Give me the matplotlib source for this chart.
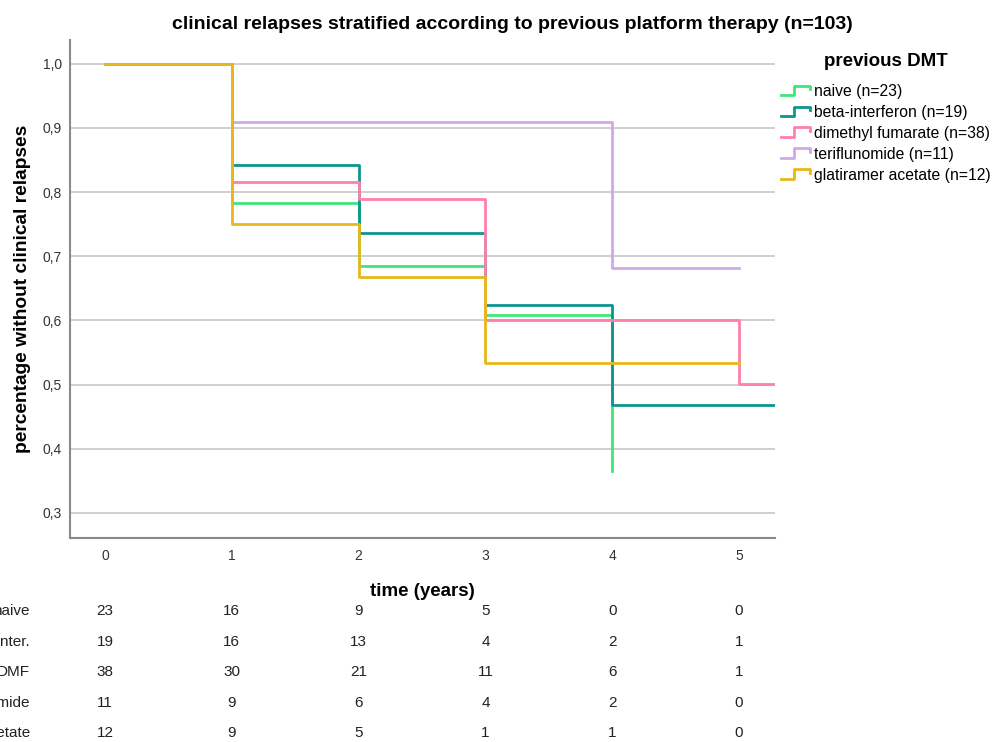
import matplotlib
matplotlib.use("Agg")
import matplotlib.pyplot as plt
from matplotlib.legend_handler import HandlerBase
from matplotlib.lines import Line2D

plt.rcParams['font.family'] = ['Liberation Sans', 'DejaVu Sans']

# Kaplan-Meier estimates per group (event times, survival after each event, end of follow-up)
groups = ['naive (n=23)', 'beta-interferon (n=19)', 'dimethyl fumarate (n=38)',
          'teriflunomide (n=11)', 'glatiramer acetate (n=12)']
colors = ['#3ee67a', '#0f9490', '#ff80a8', '#d0a8ec', '#e8b818']

naive_t = [0, 1, 2, 3, 4]
naive_s = [1.0, 0.783, 0.685, 0.609, 0.365]
beta_t = [0, 1, 2, 3, 4]
beta_s = [1.0, 0.842, 0.737, 0.624, 0.468]
dmf_t = [0, 1, 2, 3, 5]
dmf_s = [1.0, 0.816, 0.789, 0.601, 0.501]
teri_t = [0, 1, 4]
teri_s = [1.0, 0.909, 0.682]
glat_t = [0, 1, 2, 3]
glat_s = [1.0, 0.75, 0.667, 0.533]
end_t = [4, 5.6, 5.6, 5, 5]

# numbers at risk
risk_labels = ['naive', 'beta-inter.', 'DMF', 'teriflunomide', 'glatiramer acetate']
risk_years = [0, 1, 2, 3, 4, 5]
risk_naive = [23, 16, 9, 5, 0, 0]
risk_beta = [19, 16, 13, 4, 2, 1]
risk_dmf = [38, 30, 21, 11, 6, 1]
risk_teri = [11, 9, 6, 4, 2, 0]
risk_glat = [12, 9, 5, 1, 1, 0]

times = [naive_t, beta_t, dmf_t, teri_t, glat_t]
surv = [naive_s, beta_s, dmf_s, teri_s, glat_s]
risk = [risk_naive, risk_beta, risk_dmf, risk_teri, risk_glat]


class StepHandler(HandlerBase):
    # small step-shaped legend key like SPSS uses
    def create_artists(self, legend, orig_handle, xdescent, ydescent, width, height, fontsize, trans):
        x0, x1 = -xdescent, -xdescent + width
        xm = x0 + width * 0.45
        ylo, yhi = -ydescent + height * 0.05, -ydescent + height * 0.95
        line = Line2D([x0, xm, xm, x1, x1], [ylo, ylo, yhi, yhi, yhi - height * 0.35],
                      color=orig_handle.get_color(), lw=2.0, transform=trans)
        return [line]


fig = plt.figure(figsize=(9.94, 7.42), dpi=100)
ax = fig.add_axes([0.0704, 0.2749, 0.7093, 0.6711])

handles = []
for t, s, end, c, g in zip(times, surv, end_t, colors, groups):
    h, = ax.step(t + [end], s + [s[-1]], where='post', color=c, lw=2.0, label=g)
    handles.append(h)

ax.set_xlim(-0.276, 5.284)
ax.set_ylim(0.261, 1.037)
ax.set_yticks([0.3, 0.4, 0.5, 0.6, 0.7, 0.8, 0.9, 1.0])
ax.set_yticklabels(['0,3', '0,4', '0,5', '0,6', '0,7', '0,8', '0,9', '1,0'])
ax.set_xticks(risk_years)
ax.grid(axis='y', color='#cccccc', lw=1.3)
ax.set_axisbelow(True)
ax.tick_params(length=0, labelsize=10, labelcolor='#333333')
ax.tick_params(axis='y', pad=6)
ax.tick_params(axis='x', pad=8)
for side in ['top', 'right']:
    ax.spines[side].set_visible(False)
for side in ['left', 'bottom']:
    ax.spines[side].set_color('#8a8a8a')
    ax.spines[side].set_linewidth(1.5)

ax.set_ylabel('percentage without clinical relapses', fontsize=13.8, fontweight='bold', labelpad=8)
ax.set_xlabel('time (years)', fontsize=13.5, fontweight='bold', labelpad=14)
fig.suptitle('clinical relapses stratified according to previous platform therapy (n=103)',
             x=0.515, y=0.979, fontsize=14, fontweight='bold')

leg = fig.legend(handles=handles, loc='upper left', bbox_to_anchor=(0.778, 0.939),
                 frameon=False, fontsize=11.3, title='previous DMT',
                 title_fontproperties={'weight': 'bold', 'size': 13.5},
                 handler_map={Line2D: StepHandler()},
                 handlelength=1.85, handletextpad=0.25, labelspacing=0.38, borderpad=0)
leg._legend_box.sep = 10

# table of patients at risk under the time axis
row_y = [611, 642, 672, 703, 733]
for lab, counts, y in zip(risk_labels, risk, row_y):
    yf = 1 - y / 742
    fig.text(30 / 994, yf, lab, ha='right', va='center', fontsize=11, color='#222222')
    for yr, n in zip(risk_years, counts):
        xf = ax.transData.transform((yr, 0))[0] / fig.bbox.width
        fig.text(xf, yf, str(n), ha='center', va='center', fontsize=11, color='#222222')

fig.savefig('out.png', dpi=100)
